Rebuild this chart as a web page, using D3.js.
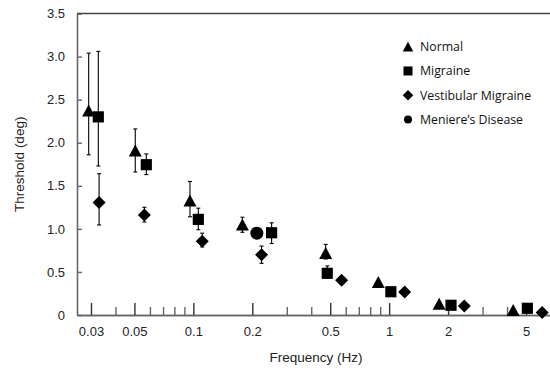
<!DOCTYPE html>
<html>
<head>
<meta charset="utf-8">
<script src="https://cdn.jsdelivr.net/npm/d3@7"></script>
<style>
  body { margin: 0; background: #fff; }
  svg { display: block; }
  .tick text { font-family: "Liberation Sans", Arial, sans-serif; font-size: 13px; fill: #222; }
  .axis-title { font-family: "Liberation Sans", Arial, sans-serif; font-size: 13.5px; fill: #222; }
  .legend-label { font-family: "Open Sans", "Noto Sans", sans-serif; font-size: 12.3px; fill: #111; }
</style>
</head>
<body>
<svg id="chart" width="550" height="368"></svg>
<script>
// Series: frequency (Hz), threshold (deg), error bar low / high
const normalFreq = [0.0292, 0.0505, 0.0961, 0.178, 0.474, 0.88, 1.80, 4.3];
const normalThr  = [2.375, 1.91, 1.33, 1.05, 0.72, 0.383, 0.13, 0.058];
const normalLo   = [1.86, 1.66, 1.14, 0.96, 0.65, null, null, null];
const normalHi   = [3.04, 2.16, 1.55, 1.135, 0.82, null, null, null];

const migraineFreq = [0.0327, 0.0575, 0.106, 0.251, 0.483, 1.02, 2.07, 5.08];
const migraineThr  = [2.30, 1.745, 1.11, 0.955, 0.484, 0.27, 0.113, 0.078];
const migraineLo   = [1.73, 1.63, 0.99, 0.83, 0.43, null, null, null];
const migraineHi   = [3.06, 1.87, 1.24, 1.07, 0.57, null, null, null];

const vmFreq = [0.0330, 0.0562, 0.111, 0.223, 0.572, 1.20, 2.42, 6.05];
const vmThr  = [1.307, 1.16, 0.857, 0.70, 0.403, 0.267, 0.105, 0.03];
const vmLo   = [1.045, 1.08, 0.79, 0.60, null, null, null, null];
const vmHi   = [1.64, 1.25, 0.95, 0.80, null, null, null, null];

const menieresFreq = [0.211];
const menieresThr  = [0.95];

const legendLabels = ['Normal', 'Migraine', 'Vestibular Migraine', 'Meniere\u2019s Disease'];
const legendShapes = ['triangle', 'square', 'diamond', 'circle'];

const xMajorTicks = [0.03, 0.05, 0.1, 0.2, 0.5, 1, 2, 5];
const xMinorTicks = [0.04, 0.06, 0.07, 0.08, 0.09, 0.3, 0.4, 0.6, 0.7, 0.8, 0.9, 3, 4, 6];
const yTicks = [0, 0.5, 1, 1.5, 2, 2.5, 3, 3.5];

const series = [
  { shape: 'triangle', freq: normalFreq, thr: normalThr, lo: normalLo, hi: normalHi },
  { shape: 'square', freq: migraineFreq, thr: migraineThr, lo: migraineLo, hi: migraineHi },
  { shape: 'diamond', freq: vmFreq, thr: vmThr, lo: vmLo, hi: vmHi },
  { shape: 'circle', freq: menieresFreq, thr: menieresThr, lo: [null], hi: [null] },
];

const margins = { left: 77, top: 13.5, right: 0, bottom: 53 };
const width = 550, height = 368;

const svg = d3.select('#chart');

const x = d3.scaleLog()
  .domain([0.02545, 6.63])
  .range([margins.left, width - margins.right]);

const y = d3.scaleLinear()
  .domain([0, 3.5])
  .range([height - margins.bottom, margins.top]);

// Marker outline in local coordinates, s = overall size
function shapePath(shape, s) {
  const h = s / 2;
  if (shape === 'triangle') return `M0,${-h * 0.92}L${h},${h * 0.92}L${-h},${h * 0.92}Z`;
  if (shape === 'square') return `M${-h * 0.86},${-h * 0.86}H${h * 0.86}V${h * 0.86}H${-h * 0.86}Z`;
  if (shape === 'diamond') return `M0,${-h}L${h},0L0,${h}L${-h},0Z`;
  return d3.arc()({ innerRadius: 0, outerRadius: h, startAngle: 0, endAngle: 2 * Math.PI });
}

// Axes
const axisColour = '#666';

const xAxisMajor = d3.axisBottom(x)
  .tickValues(xMajorTicks)
  .tickFormat(d => d3.format('~g')(d))
  .tickSizeInner(-12)
  .tickSizeOuter(0)
  .tickPadding(12);

const xAxisMinor = d3.axisBottom(x)
  .tickValues(xMinorTicks)
  .tickFormat('')
  .tickSizeInner(-8)
  .tickSizeOuter(0);

const yAxis = d3.axisLeft(y)
  .tickValues(yTicks)
  .tickFormat(d => d === 0 ? '0' : d3.format('.1f')(d))
  .tickSizeInner(-5)
  .tickSizeOuter(0)
  .tickPadding(12);

const gxMinor = svg.append('g')
  .attr('transform', `translate(0, ${y(0)})`)
  .call(xAxisMinor);

const gx = svg.append('g')
  .attr('transform', `translate(0, ${y(0)})`)
  .call(xAxisMajor);

const gy = svg.append('g')
  .attr('transform', `translate(${margins.left}, 0)`)
  .call(yAxis);

[gx, gxMinor, gy].forEach(g => {
  g.selectAll('.domain').attr('stroke', axisColour).attr('stroke-width', 1.6);
  g.selectAll('.tick line').attr('stroke', axisColour).attr('stroke-width', 1.4);
});
gx.selectAll('.tick line').attr('stroke', '#333');
gx.selectAll('.tick text').attr('fill', '#222');
gy.selectAll('.tick text').attr('fill', '#222');

// top frame line
svg.append('line')
  .attr('x1', x.range()[0]).attr('x2', x.range()[1])
  .attr('y1', y(3.5)).attr('y2', y(3.5))
  .attr('stroke', '#444')
  .attr('stroke-width', 1.6);

// Axis titles
svg.append('text')
  .attr('class', 'axis-title')
  .attr('x', 316)
  .attr('y', 362)
  .attr('text-anchor', 'middle')
  .text('Frequency (Hz)');

svg.append('text')
  .attr('class', 'axis-title')
  .attr('transform', `translate(24, ${(y(0) + y(3.5)) / 2})rotate(-90)`)
  .attr('text-anchor', 'middle')
  .text('Threshold (deg)');

// Data
const dataContainer = svg.append('g').attr('class', 'data-container');

series.forEach(s => {
  const points = s.freq.map((f, i) => ({ f, t: s.thr[i], lo: s.lo[i], hi: s.hi[i] }));
  const withErr = points.filter(p => p.lo !== null && p.lo !== undefined);

  const err = dataContainer.append('g').attr('stroke', '#000').attr('stroke-width', 1.1);
  err.selectAll('line.bar')
    .data(withErr)
    .join('line')
    .attr('class', 'bar')
    .attr('x1', p => x(p.f)).attr('x2', p => x(p.f))
    .attr('y1', p => y(p.lo)).attr('y2', p => y(p.hi));
  err.selectAll('line.cap-hi')
    .data(withErr)
    .join('line')
    .attr('class', 'cap-hi')
    .attr('x1', p => x(p.f) - 2).attr('x2', p => x(p.f) + 2)
    .attr('y1', p => y(p.hi)).attr('y2', p => y(p.hi));
  err.selectAll('line.cap-lo')
    .data(withErr)
    .join('line')
    .attr('class', 'cap-lo')
    .attr('x1', p => x(p.f) - 2).attr('x2', p => x(p.f) + 2)
    .attr('y1', p => y(p.lo)).attr('y2', p => y(p.lo));

  dataContainer.append('g')
    .selectAll('path')
    .data(points)
    .join('path')
    .attr('d', shapePath(s.shape, 13))
    .attr('transform', p => `translate(${x(p.f)}, ${y(p.t)})`)
    .attr('fill', '#000');
});

// Legend
const legendY = d3.scalePoint()
  .domain(legendLabels)
  .range([46.7, 119.5]);

const legendItems = svg.append('g')
  .attr('class', 'legend-container')
  .selectAll('g.legend-item')
  .data(legendLabels)
  .join('g')
  .attr('class', 'legend-item')
  .attr('transform', d => `translate(408, ${legendY(d)})`);

legendItems.append('path')
  .attr('d', (d, i) => shapePath(legendShapes[i], legendShapes[i] === 'circle' ? 8 : 10.5))
  .attr('fill', '#000');

legendItems.append('text')
  .attr('class', 'legend-label')
  .attr('x', 12)
  .attr('y', 4.4)
  .text(d => d);
</script>
</body>
</html>
